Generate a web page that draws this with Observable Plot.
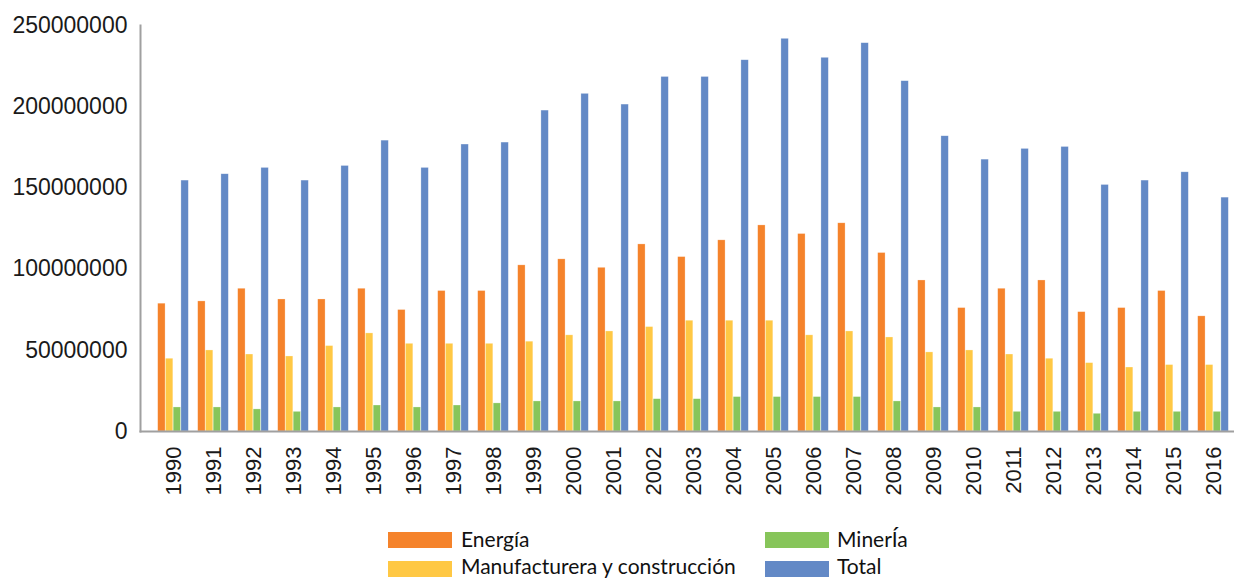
<!DOCTYPE html>
<html><head><meta charset="utf-8">
<script src="https://cdn.jsdelivr.net/npm/d3@7"></script>
<script src="https://cdn.jsdelivr.net/npm/@observablehq/plot@0.6"></script>
<style>
body{margin:0;background:#fff;width:1234px;height:578px;overflow:hidden;position:relative;}
#chart{position:absolute;left:0;top:0;}
.sw{position:absolute;width:64px;height:16px;}
.lt{position:absolute;font-family:Lato,"Open Sans",sans-serif;font-size:21px;color:#111;line-height:20px;white-space:nowrap;}
</style></head>
<body><div id="chart"></div><div id="legend"></div>
<script>
const years = ["1990","1991","1992","1993","1994","1995","1996","1997","1998","1999","2000","2001","2002","2003","2004","2005","2006","2007","2008","2009","2010","2011","2012","2013","2014","2015","2016"];
const energia = [78700000,80100000,87900000,81300000,81300000,87900000,74800000,86500000,86500000,102300000,106000000,100800000,115200000,107400000,117700000,126900000,121600000,128200000,109900000,93000000,76000000,87900000,93000000,73500000,76000000,86500000,70900000];
const manufactura = [44800000,49900000,47400000,46200000,52600000,60400000,54000000,54000000,54000000,55300000,59200000,61600000,64300000,68200000,68200000,68200000,59200000,61600000,57900000,48700000,49900000,47400000,44800000,42100000,39400000,40900000,40900000];
const mineria = [14800000,14800000,13600000,12100000,14800000,16000000,14800000,16000000,17300000,18500000,18500000,18500000,19900000,19900000,21200000,21200000,21200000,21200000,18500000,14800000,14800000,12100000,12100000,10900000,12100000,12100000,12100000];
const total = [154500000,158400000,162300000,154500000,163500000,179100000,162300000,176700000,177900000,197600000,207900000,201300000,218300000,218300000,228600000,241800000,230100000,239100000,215700000,181800000,167400000,174000000,175200000,151800000,154500000,159600000,144000000];
const yTicks = [0,50000000,100000000,150000000,200000000,250000000];
const seriesNames = ["Energía","Manufacturera y construcción","MinerÍa","Total"];
const seriesColors = ["#F5832B","#FFC844","#87C55A","#6389C6"];
const seriesValues = [energia, manufactura, mineria, total];

const W = 1234, H = 510;
const xRange = [147.8, 1237.2];
const bw = (xRange[1]-xRange[0]) / years.length;
const barW = 7.75;
const groupOff = (bw - 4*barW) / 2;

const barMarks = seriesValues.map((vals, i) =>
  Plot.barY(years.map((y, j) => ({year: y, value: vals[j], serie: seriesNames[i]})), {
    x: "year", y: "value", fill: seriesColors[i],
    insetLeft: groupOff + i*barW, insetRight: bw - groupOff - (i+1)*barW,
    stroke: "white", strokeOpacity: 0.45, strokeWidth: 0.6
  })
);

const chart = Plot.plot({
  width: W, height: H,
  marginLeft: 140, marginRight: 0, marginTop: 25, marginBottom: 79,
  style: {fontFamily: "'Liberation Sans', Arial, sans-serif", color: "#1a1a1a", background: "white"},
  x: {domain: years, range: xRange, padding: 0, label: null, axis: null},
  y: {domain: [0, 250000000], label: null, axis: null},
  marks: [
    ...barMarks,
    Plot.axisY({ticks: yTicks, tickFormat: d => String(d), tickSize: 0, tickPadding: 13, fontSize: 23, label: null}),
    Plot.axisX({tickRotate: -90, tickSize: 0, tickPadding: 15, fontSize: 22, label: null}),
    Plot.frame({anchor: "left", stroke: "#A0A0A0", strokeWidth: 2}),
    Plot.frame({anchor: "bottom", stroke: "#A0A0A0", strokeWidth: 2})
  ]
});
document.getElementById("chart").appendChild(chart);

const legend = document.getElementById("legend");
const legendPos = [[388, 532, 461, 529], [388, 561, 461, 556], [765, 532, 837, 529], [765, 561, 837, 556]];
seriesNames.forEach((n, i) => {
  const [sx, sy, tx, ty] = legendPos[i];
  const sw = document.createElement("div");
  sw.className = "sw"; sw.style.left = sx + "px"; sw.style.top = sy + "px"; sw.style.background = seriesColors[i];
  const t = document.createElement("div");
  t.className = "lt"; t.style.left = tx + "px"; t.style.top = ty + "px"; t.textContent = n;
  legend.appendChild(sw); legend.appendChild(t);
});
</script>
</body></html>
